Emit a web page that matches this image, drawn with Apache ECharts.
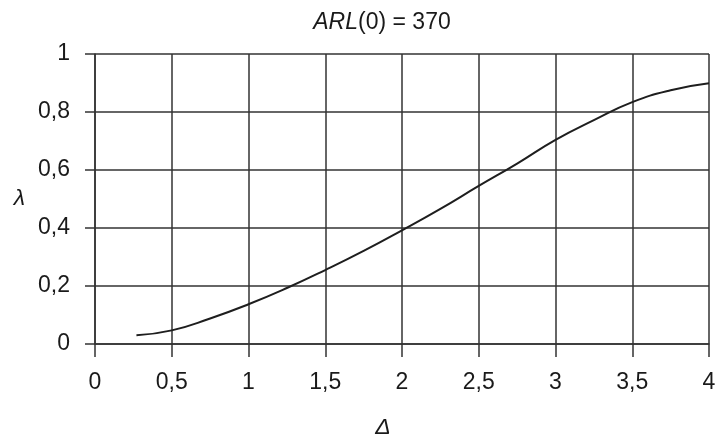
<!DOCTYPE html>
<html>
<head>
<meta charset="utf-8">
<script src="https://cdn.jsdelivr.net/npm/echarts@6/dist/echarts.min.js"></script>
<style>
  html, body { margin: 0; padding: 0; background: #fff; }
  #chart { width: 720px; height: 434px; }
</style>
</head>
<body>
<div id="chart"></div>
<script>
// Shift Δ and smoothing parameter λ for ARL(0) = 370
const delta  = [0.27, 0.5, 0.75, 1.0, 1.25, 1.5, 1.75, 2.0, 2.25, 2.5, 2.75, 3.0, 3.25, 3.5, 3.75, 4.0];
const lambda = [0.03, 0.047, 0.088, 0.137, 0.193, 0.255, 0.321, 0.392, 0.466, 0.545, 0.622, 0.704, 0.772, 0.834, 0.875, 0.899];

const xTicks = { min: 0, max: 4, interval: 0.5 };
const yTicks = { min: 0, max: 1, interval: 0.2 };

const FONT = '"Liberation Sans", Arial, sans-serif';
const INK = '#1a1a1a';
const GRID = '#333';
const FS = 23;

const commaDecimal = v => String(Math.round(v * 10) / 10).replace('.', ',');

const chart = echarts.init(document.getElementById('chart'), null, { renderer: 'canvas' });

chart.setOption({
  animation: false,
  backgroundColor: '#fff',
  textStyle: { fontFamily: FONT, color: INK },
  title: {
    text: '{i|ARL}(0) = 370',
    left: 377,
    top: 6,
    textAlign: 'center',
    textStyle: {
      fontFamily: FONT, fontSize: FS, fontWeight: 'normal', color: INK,
      rich: { i: { fontFamily: FONT, fontSize: FS, fontStyle: 'italic', color: INK } }
    }
  },
  grid: { left: 95, right: 11, top: 54, bottom: 90, containLabel: false, outerBoundsMode: 'none' },
  xAxis: {
    type: 'value',
    min: xTicks.min, max: xTicks.max, interval: xTicks.interval,
    name: 'Δ',
    nameLocation: 'middle',
    nameGap: 72,
    nameTextStyle: { fontFamily: FONT, fontSize: FS, fontStyle: 'italic', color: INK, padding: [0, 38, 0, 0] },
    axisLine: { show: true, lineStyle: { color: GRID, width: 1.5 } },
    axisTick: { show: true, length: 13, lineStyle: { color: GRID, width: 1.5 } },
    splitLine: { show: true, lineStyle: { color: GRID, width: 1.5 } },
    axisLabel: { margin: 27, fontFamily: FONT, fontSize: FS, color: INK, formatter: commaDecimal }
  },
  yAxis: {
    type: 'value',
    min: yTicks.min, max: yTicks.max, interval: yTicks.interval,
    name: 'λ',
    nameLocation: 'middle',
    nameGap: 70,
    nameRotate: 0,
    nameTextStyle: { fontFamily: FONT, fontSize: FS, fontStyle: 'italic', color: INK },
    axisLine: { show: true, lineStyle: { color: GRID, width: 1.5 } },
    axisTick: { show: true, length: 10, lineStyle: { color: GRID, width: 1.5 } },
    splitLine: { show: true, lineStyle: { color: GRID, width: 1.5 } },
    axisLabel: { margin: 25, fontFamily: FONT, fontSize: FS, color: INK, formatter: commaDecimal }
  },
  series: [{
    type: 'line',
    data: delta.map((d, i) => [d, lambda[i]]),
    smooth: 0.5,
    showSymbol: false,
    lineStyle: { color: '#1e1e1e', width: 2 }
  }]
});
</script>
</body>
</html>
